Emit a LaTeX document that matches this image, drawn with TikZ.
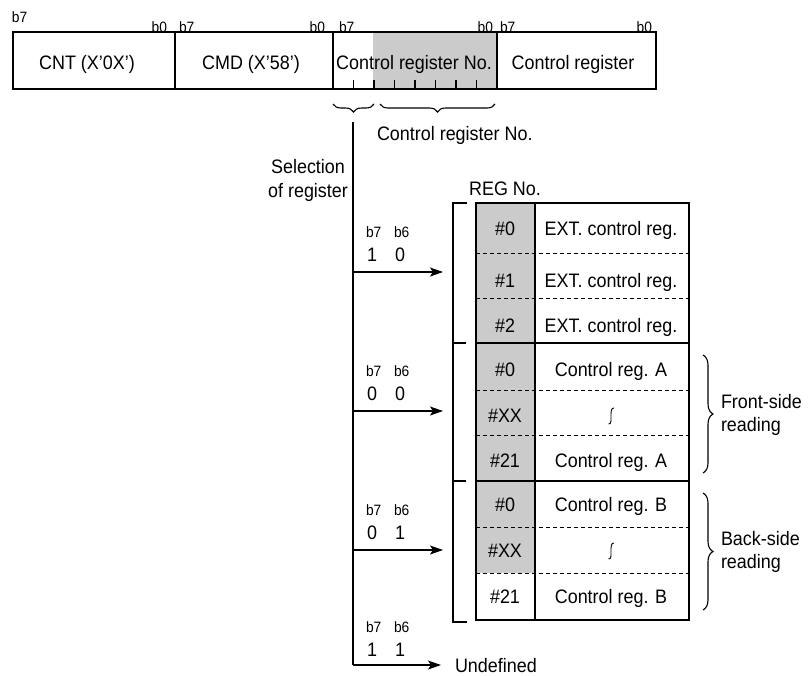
\documentclass[tikz,border=0pt]{standalone}
\usepackage{fontspec}
\setmainfont[FakeStretch=0.92]{Liberation Sans}
\usetikzlibrary{arrows.meta,decorations.pathreplacing}
\definecolor{cellgray}{HTML}{CBCBCB}
\begin{document}
\begin{tikzpicture}[x=1pt,y=-1pt,
  every node/.style={inner sep=0pt, outer sep=0pt},
  main/.style={font=\fontsize{19.5}{23}\selectfont, text height=14pt, text depth=0pt},
  small/.style={font=\fontsize{15}{17}\selectfont, text height=11pt, text depth=0pt},
  boxline/.style={line width=1.6pt},
  tabline/.style={line width=1.9pt},
  sepline/.style={line width=2.4pt},
  conn/.style={line width=1.1pt},
  arr/.style={conn, -{Stealth[length=13pt,width=9pt,inset=3pt]}},
  dsh/.style={line width=0.9pt, dash pattern=on 4pt off 3pt},
  bracedown/.style={conn, decorate, decoration={brace, mirror, amplitude=8pt}},
  braceright/.style={conn, decorate, decoration={brace, amplitude=10pt}},
  ]
\useasboundingbox (0,0) rectangle (811,675);

% ---------- top frame ----------
\fill[cellgray] (373,33) rectangle (496,88);
\draw[boxline] (13,32) rectangle (656,89);
\foreach \xd in {175,333,497} \draw[boxline] (\xd,32) -- (\xd,89);
\foreach \k in {1,...,7} \draw[conn] ({333+20.5*\k},80) -- ({333+20.5*\k},89);

\node[main] (cnt) at (87,62) {CNT (X'0X')};
\node[main] (cmd) at (251,62) {CMD (X'58')};
\node[main] (crn) at (414,62) {Control register No.};
\node[main] (creg) at (573,62) {Control register};

\node[small, anchor=west] (tb1) at (12,17) {b7};
\node[small, anchor=east] (tb2) at (167,27) {b0};
\node[small, anchor=west] (tb3) at (179,27) {b7};
\node[small, anchor=east] (tb4) at (325,27) {b0};
\node[small, anchor=west] (tb5) at (339,27) {b7};
\node[small, anchor=east] (tb6) at (493,27) {b0};
\node[small, anchor=west] (tb7) at (500,27) {b7};
\node[small, anchor=east] (tb8) at (652,27) {b0};

% ---------- braces under frame ----------
\draw[bracedown] (333,104) -- (374,104);
\draw[bracedown] (380,104) -- (495,104);
\node[main, anchor=west] (crnlbl) at (377,133) {Control register No.};

\node[main] (sel1) at (308,166) {Selection};
\node[main] (sel2) at (308,190) {of register};

% ---------- trunk and branches ----------
\coordinate (trunk) at (353,122);
\coordinate (bend) at (353,665);
\coordinate (br1) at (353,272);
\coordinate (br2) at (353,411);
\coordinate (br3) at (353,550);
\coordinate (tip1) at (443,272);
\coordinate (tip2) at (443,411);
\coordinate (tip3) at (443,550);
\node[main, anchor=west] (undef) at (455,665) {Undefined};

\draw[conn] (trunk) -- (bend);
\draw[arr] (br1) -- (tip1);
\draw[arr] (br2) -- (tip2);
\draw[arr] (br3) -- (tip3);
\draw[arr] (bend) -- ([xshift=-14pt]undef.west);

% bit labels
\foreach \yy/\da/\db/\nm in {272/1/0/a, 411/0/0/b, 550/0/1/c, 667/1/1/d}{
  \node[small, anchor=west] (b7\nm) at (366,\yy-40) {b7};
  \node[small, anchor=west] (b6\nm) at (394,\yy-40) {b6};
  \node[main] (da\nm) at (372,\yy-18) {\da};
  \node[main] (db\nm) at (400,\yy-18) {\db};
}

% ---------- left bracket ----------
\draw[conn] (467,203) -- (453,203) -- (453,622) -- (467,622);
\draw[conn] (453,343) -- (466,343);
\draw[conn] (453,481) -- (466,481);

% ---------- register table ----------
\node[main] (regno) at (505,188) {REG No.};
\fill[cellgray] (476,203) rectangle (535,573);
\foreach \yy in {253,298,390,435,527,573} \draw[dsh] (476,\yy) -- (689,\yy);
\draw[sepline] (476,343) -- (689,343);
\draw[sepline] (476,481) -- (689,481);
\draw[tabline] (535,203) -- (535,620);
\draw[tabline] (476,203) rectangle (689,620);

\node[main] (n1) at (505,228) {\#0};
\node[main] (n2) at (505,280) {\#1};
\node[main] (n3) at (505,325) {\#2};
\node[main] (n4) at (505,369) {\#0};
\node[main] (n5) at (505,415) {\#XX};
\node[main] (n6) at (505,460) {\#21};
\node[main] (n7) at (505,504) {\#0};
\node[main] (n8) at (505,550) {\#XX};
\node[main] (n9) at (505,596) {\#21};

\node[main] (c1) at (611,228) {EXT. control reg.};
\node[main] (c2) at (611,280) {EXT. control reg.};
\node[main] (c3) at (611,325) {EXT. control reg.};
\node[main] (c4) at (611,369) {Control reg. A};
\node[main] (c6) at (611,460) {Control reg. A};
\node[main] (c7) at (611,504) {Control reg. B};
\node[main] (c9) at (611,596) {Control reg. B};

\foreach \yy in {416,551}{
  \draw[line width=0.9pt] (614,\yy-8) .. controls (611,\yy-8.5) and (611,\yy-4) .. (611,\yy)
     .. controls (611,\yy+4) and (611.5,\yy+8.5) .. (608.5,\yy+8);
}

% ---------- right braces ----------
\draw[braceright] (703,355) -- (703,473);
\draw[braceright] (703,493) -- (703,610);
\node[main, anchor=west] (fr1) at (721,401) {Front-side};
\node[main, anchor=west] (fr2) at (721,424) {reading};
\node[main, anchor=west] (bk1) at (721,538.5) {Back-side};
\node[main, anchor=west] (bk2) at (721,561.5) {reading};
\end{tikzpicture}
\end{document}
